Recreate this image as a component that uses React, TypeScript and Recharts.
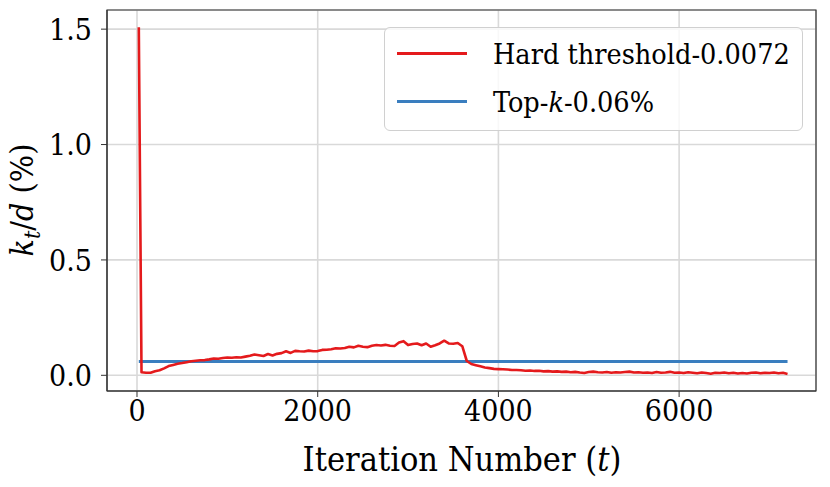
import React from 'react';
import { LineChart, Line, XAxis, YAxis, CartesianGrid, ReferenceArea } from 'recharts';

const FONT = '"DejaVu Serif Condensed", "DejaVu Serif", "Liberation Serif", serif';
const RED = '#e41a1c';
const BLUE = '#3a7ebf';

// first reading at t=20, then every 50 iterations
const ITER_START = 20;
const ITER_STEP = 50;

// k_t/d (%) for the hard-threshold run
const HARD_THRESHOLD = [
  1.508, 0.013, 0.011, 0.011, 0.018, 0.022, 0.030, 0.040, 0.045, 0.050,
  0.053, 0.057, 0.061, 0.063, 0.065, 0.066, 0.069, 0.073, 0.072, 0.075,
  0.077, 0.076, 0.078, 0.077, 0.081, 0.085, 0.090, 0.087, 0.084, 0.092,
  0.086, 0.093, 0.096, 0.104, 0.097, 0.106, 0.104, 0.103, 0.107, 0.104,
  0.105, 0.110, 0.111, 0.113, 0.117, 0.116, 0.118, 0.124, 0.121, 0.128,
  0.124, 0.122, 0.128, 0.131, 0.129, 0.132, 0.128, 0.127, 0.142, 0.148,
  0.131, 0.136, 0.138, 0.130, 0.138, 0.124, 0.130, 0.138, 0.150, 0.138,
  0.137, 0.140, 0.126, 0.062, 0.049, 0.044, 0.039, 0.034, 0.031, 0.028,
  0.027, 0.026, 0.025, 0.023, 0.023, 0.022, 0.020, 0.021, 0.019, 0.020,
  0.017, 0.018, 0.016, 0.017, 0.015, 0.016, 0.013, 0.015, 0.012, 0.010,
  0.014, 0.016, 0.013, 0.012, 0.014, 0.011, 0.013, 0.012, 0.014, 0.016,
  0.012, 0.013, 0.011, 0.012, 0.010, 0.014, 0.011, 0.012, 0.015, 0.011,
  0.012, 0.010, 0.013, 0.011, 0.009, 0.012, 0.010, 0.007, 0.011, 0.010,
  0.012, 0.009, 0.011, 0.008, 0.010, 0.008, 0.011, 0.012, 0.009, 0.011,
  0.010, 0.012, 0.009, 0.011, 0.006,
];

// fixed top-k ratio (%)
const TOP_K = 0.06;

const X_TICKS = [0, 2000, 4000, 6000];
const Y_TICKS = [0, 0.5, 1.0, 1.5];
const X_DOMAIN: [number, number] = [-332, 7515];
const Y_DOMAIN: [number, number] = [-0.068, 1.583];

const LEGEND_ITEMS = [
  { key: 'hard', color: RED, label: <>Hard threshold-0.0072</> },
  { key: 'topk', color: BLUE, label: <>Top-<i>k</i>-0.06%</> },
];

const data = HARD_THRESHOLD.map((v, i) => ({
  iter: i === 0 ? ITER_START : i * ITER_STEP,
  hard: v,
  topk: TOP_K,
}));

function YLabel() {
  return (
    <text x={33} y={200} transform="rotate(-90, 33, 200)" textAnchor="middle"
      fontFamily={FONT} fontSize={32} fill="#000">
      <tspan fontStyle="italic">k</tspan>
      <tspan fontStyle="italic" fontSize={23} dy={7}>t</tspan>
      <tspan dy={-7}>/</tspan>
      <tspan fontStyle="italic">d</tspan>
      <tspan> (%)</tspan>
    </text>
  );
}

function XLabel() {
  return (
    <text x={462} y={471} textAnchor="middle" fontFamily={FONT} fontSize={34}
      fill="#000">
      <tspan>Iteration Number (</tspan>
      <tspan fontStyle="italic">t</tspan>
      <tspan>)</tspan>
    </text>
  );
}

export default function App() {
  const tickStyle = { fontSize: 30, fontFamily: FONT, fill: '#000' };
  return (
    <div style={{ position: 'absolute', left: 0, top: 0, width: 830, height: 487, background: '#fff' }}>
      <LineChart width={830} height={487} data={data}
        margin={{ top: 10, right: 14, left: 0, bottom: 0 }}>
        <CartesianGrid stroke="#d9d9d9" strokeWidth={1.6} />
        <XAxis type="number" dataKey="iter" domain={X_DOMAIN} ticks={X_TICKS}
          allowDataOverflow height={96} tick={tickStyle} tickSize={6} tickMargin={3}
          stroke="#333" interval={0} label={<XLabel />} />
        <YAxis type="number" domain={Y_DOMAIN} ticks={Y_TICKS} allowDataOverflow
          width={107} tick={tickStyle} tickSize={6} tickMargin={9} stroke="#333"
          interval={0} tickFormatter={(v: number) => v.toFixed(1)} label={<YLabel />} />
        <ReferenceArea x1={X_DOMAIN[0]} x2={X_DOMAIN[1]} y1={Y_DOMAIN[0]} y2={Y_DOMAIN[1]}
          fill="none" stroke="#333" strokeWidth={1.2} ifOverflow="visible" />
        <Line type="linear" dataKey="topk" stroke={BLUE} strokeWidth={3} dot={false}
          isAnimationActive={false} />
        <Line type="linear" dataKey="hard" stroke={RED} strokeWidth={2.6} dot={false}
          strokeLinejoin="round" isAnimationActive={false} />
      </LineChart>

      <div style={{
        position: 'absolute', left: 384, top: 27, width: 419, height: 104,
        boxSizing: 'border-box', border: '1px solid #d0d0d0', borderRadius: 6,
        background: 'rgba(255,255,255,0.8)', fontFamily: FONT, fontSize: 28.5,
      }}>
        {LEGEND_ITEMS.map((item, i) => (
          <div key={item.key} style={{ position: 'absolute', left: 0, top: 10 + i * 48, height: 33, width: '100%' }}>
            <div style={{
              position: 'absolute', left: 12, top: 14, width: 70, height: 3,
              background: item.color,
            }} />
            <span style={{
              position: 'absolute', left: 108, top: 0, lineHeight: '33px',
              whiteSpace: 'nowrap',
            }}>{item.label}</span>
          </div>
        ))}
      </div>
    </div>
  );
}
